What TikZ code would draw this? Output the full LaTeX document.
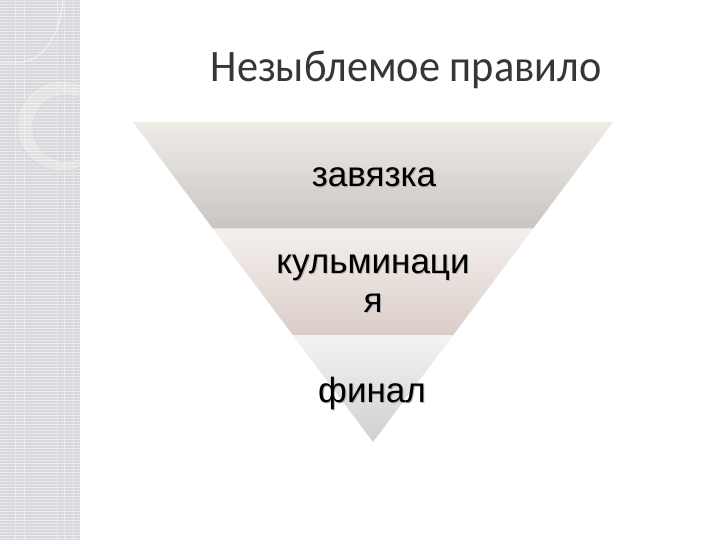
\documentclass[tikz,border=0pt]{standalone}
\usepackage{fontspec}
\setmainfont{Liberation Sans}
\newfontfamily\titlefont{Carlito}

\definecolor{stripgrey}{HTML}{D8D8DC}
\definecolor{titlegrey}{HTML}{363636}
\definecolor{bandatop}{HTML}{EFECE8}
\definecolor{bandabot}{HTML}{C9C5C1}
\definecolor{bandbtop}{HTML}{F4F0ED}
\definecolor{bandbbot}{HTML}{DACDC7}
\definecolor{bandctop}{HTML}{F5F2F2}
\definecolor{bandcbot}{HTML}{D2CFCF}

\tikzset{
  stepword/.style={font=\fontsize{35}{39}\selectfont, align=center, inner sep=0pt, anchor=base},
  stepshadow/.style={stepword, text=black!30},
}

\begin{document}
\begin{tikzpicture}[x=1pt, y=-1pt]
        \useasboundingbox (0,0) rectangle (720,540);
        \fill[white] (0,0) rectangle (720,540);

        % Left decorative strip
        \fill[stripgrey] (0,0) rectangle (80,540);
        \foreach \y in {1,4,...,540}
            \draw[white, line width=0.9pt, opacity=0.5] (0,\y) -- (80,\y);
        \foreach \x in {15,24,57,64,73}
            \draw[black!8, line width=0.4pt] (\x,0) -- (\x,540);
        \begin{scope}
            \clip (0,0) rectangle (80,540);
            \draw[white, line width=1pt, opacity=0.6] (0,63) -- (15,63) to[out=0, in=-95] (63,0);
            \fill[white, opacity=0.25, even odd rule] (62,126) circle[radius=45] (66,128) circle[radius=33];
            \draw[black!18, line width=0.4pt] (62,126) circle[radius=45] (66,128) circle[radius=33];
        \end{scope}

        % Title
        \node[font=\titlefont\fontsize{45}{48}\selectfont, text=titlegrey, anchor=base, xscale=0.94] (title) at (406,82) {Незыблемое правило};

        % Inverted triangle in three bands
        \shade[top color=bandatop, bottom color=bandabot] (133,122) -- (613,122) -- (533,228.7) -- (213,228.7) -- cycle;
        \shade[top color=bandbtop, bottom color=bandbbot] (213,228.7) -- (533,228.7) -- (453,335.3) -- (293,335.3) -- cycle;
        \shade[top color=bandctop, bottom color=bandcbot] (293,335.3) -- (453,335.3) -- (373,442) -- cycle;

        % Band labels (with a soft shadow)
        \node[stepshadow] at (375,188) {завязка};
        \node[stepword] (tie) at (374,187) {завязка};
        \node[stepshadow] at (374,313) {кульминаци\\я};
        \node[stepword] (climax) at (373,312) {кульминаци\\я};
        \node[stepshadow] at (373,403) {финал};
        \node[stepword] (finale) at (372,402) {финал};
\end{tikzpicture}
\end{document}
